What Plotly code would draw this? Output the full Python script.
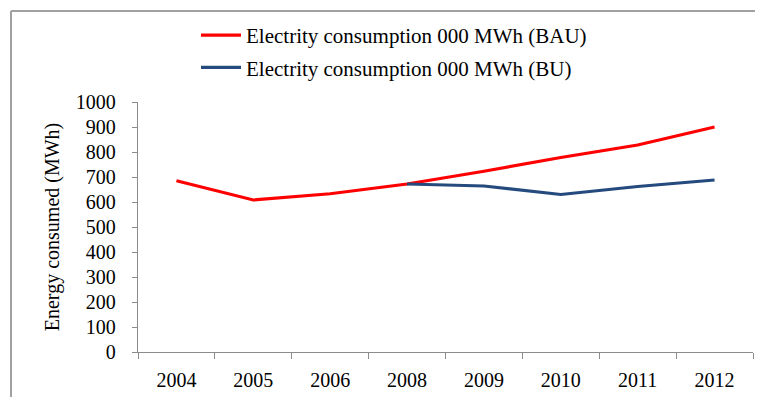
import plotly.graph_objects as go

years = ["2004", "2005", "2006", "2008", "2009", "2010", "2011", "2012"]
bau = [685, 608, 633, 672, 723, 778, 828, 900]
bu = [None, None, None, 672, 664, 630, 662, 688]
y_ticks = [0, 100, 200, 300, 400, 500, 600, 700, 800, 900, 1000]

name_bau = "Electrity consumption 000 MWh (BAU)"
name_bu = "Electrity consumption 000 MWh (BU)"

FONT = "Liberation Serif, Times New Roman, serif"
AX = "#8c8c8c"

fig = go.Figure()
fig.add_trace(go.Scatter(x=years, y=bau, mode="lines", name=name_bau,
                         line=dict(color="#ff0000", width=3.2),
                         legendgroup="a"))
fig.add_trace(go.Scatter(x=years, y=bu, mode="lines", name=name_bu,
                         line=dict(color="#254a7e", width=3.2),
                         legendgroup="b"))

# page body has an 8px margin; work in reference pixel coords and shift
OFF = 8
W, H = 763 - 2 * OFF, 405 - 2 * OFF
L, T = 138 - OFF, 102 - OFF
R = W - (753 - OFF)
B = H - (352 - OFF)
pw = W - L - R
ph = H - T - B

def px_x(p):
    return (p - OFF - L) / pw

def px_y(p):
    return 1 + (T - (p - OFF)) / ph

fig.update_layout(
    width=W, height=H,
    margin=dict(l=L, r=R, t=T, b=B, autoexpand=False),
    paper_bgcolor="white", plot_bgcolor="white",
    font=dict(family=FONT, size=20, color="#000000"),
    showlegend=True,
    legend=dict(x=px_x(196), y=px_y(15), xanchor="left", yanchor="top",
                orientation="v", tracegroupgap=2, itemwidth=40,
                font=dict(family=FONT, size=21, color="#000000"),
                bgcolor="rgba(0,0,0,0)"),
    xaxis=dict(type="category", categoryorder="array", categoryarray=years,
               range=[-0.5, len(years) - 0.5],
               showgrid=False, zeroline=False,
               showline=True, linecolor=AX, linewidth=1.3,
               ticks="outside", ticklen=6, tickcolor=AX, tickwidth=1.3,
               tickson="boundaries", ticklabelstandoff=10,
               tickfont=dict(family=FONT, size=20), fixedrange=True),
    yaxis=dict(range=[0, 1000], tickvals=y_ticks,
               showgrid=False, zeroline=False,
               showline=True, linecolor=AX, linewidth=1.3,
               ticks="outside", ticklen=5, tickcolor=AX, tickwidth=1.3,
               ticklabelstandoff=12,
               tickfont=dict(family=FONT, size=20),
               title=dict(text="Energy consumed (MWh)",
                          font=dict(family=FONT, size=20), standoff=10),
               fixedrange=True),
    shapes=[
        dict(type="line", xref="paper", yref="paper",
             x0=px_x(11), x1=px_x(763 - OFF), y0=px_y(11), y1=px_y(11),
             line=dict(color="#a0a0a0", width=2)),
        dict(type="line", xref="paper", yref="paper",
             x0=px_x(11), x1=px_x(11), y0=px_y(11), y1=px_y(405 - OFF),
             line=dict(color="#a0a0a0", width=2)),
    ],
)

fig.write_html("out.html", config={"displayModeBar": False})
